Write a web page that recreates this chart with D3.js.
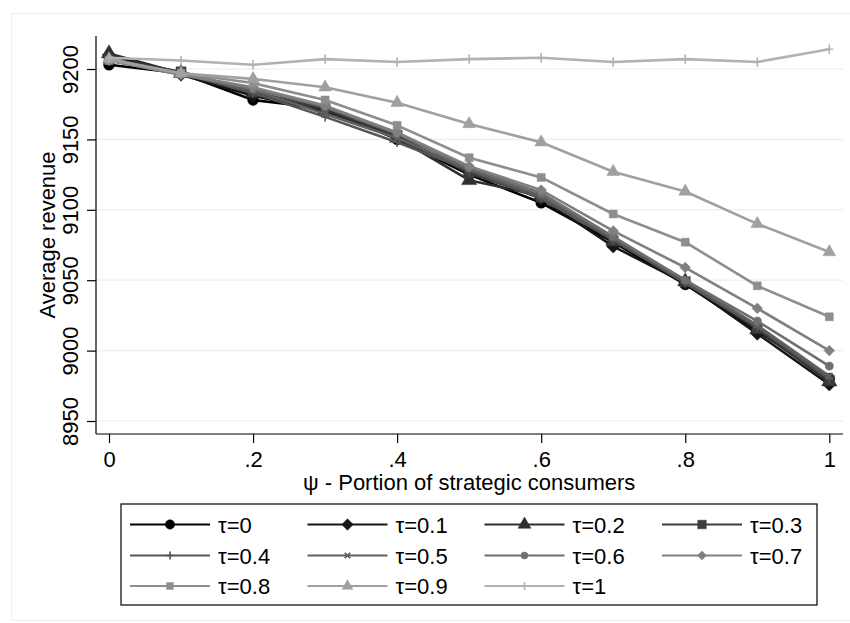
<!DOCTYPE html>
<html>
<head>
<meta charset="utf-8">
<script src="https://cdn.jsdelivr.net/npm/d3@7"></script>
<style>
  html, body { margin: 0; padding: 0; background: #ffffff; }
  svg { display: block; font-family: "Liberation Sans", Arial, sans-serif; }
</style>
</head>
<body>
<svg id="chart" width="850" height="623"></svg>
<script>
// ---- data ----
const psi = [0, 0.1, 0.2, 0.3, 0.4, 0.5, 0.6, 0.7, 0.8, 0.9, 1];
const yTicks = [8950, 9000, 9050, 9100, 9150, 9200];
const xTicks = [0, 0.2, 0.4, 0.6, 0.8, 1];
const xTickLabels = ["0", ".2", ".4", ".6", ".8", "1"];
const tauLabels = ["τ=0", "τ=0.1", "τ=0.2", "τ=0.3", "τ=0.4", "τ=0.5", "τ=0.6", "τ=0.7", "τ=0.8", "τ=0.9", "τ=1"];

const rev_t00 = [9203, 9197, 9178, 9172, 9150, 9125, 9105, 9077, 9047, 9014, 8980];
const rev_t01 = [9210, 9196, 9181, 9170, 9152, 9127, 9108, 9074, 9048, 9012, 8976];
const rev_t02 = [9211, 9197, 9183, 9171, 9151, 9121, 9110, 9078, 9049, 9015, 8978];
const rev_t03 = [9207, 9198, 9184, 9172, 9153, 9126, 9109, 9078, 9049, 9016, 8979];
const rev_t04 = [9206, 9197, 9183, 9166, 9148, 9128, 9108, 9079, 9048, 9017, 8980];
const rev_t05 = [9206, 9197, 9185, 9168, 9151, 9129, 9110, 9080, 9050, 9018, 8982];
const rev_t06 = [9206, 9196, 9186, 9173, 9154, 9130, 9112, 9081, 9050, 9021, 8989];
const rev_t07 = [9206, 9196, 9187, 9174, 9155, 9131, 9114, 9085, 9059, 9030, 9000];
const rev_t08 = [9206, 9197, 9190, 9178, 9160, 9137, 9123, 9097, 9077, 9046, 9024];
const rev_t09 = [9207, 9197, 9193, 9187, 9176, 9161, 9148, 9127, 9113, 9090, 9070];
const rev_t10 = [9208, 9206, 9203, 9207, 9205, 9207, 9208, 9205, 9207, 9205, 9214];

const seriesValues = [rev_t00, rev_t01, rev_t02, rev_t03, rev_t04, rev_t05, rev_t06, rev_t07, rev_t08, rev_t09, rev_t10];

// ---- styles ----
const colors = ["#000000", "#161616", "#2e2e2e", "#3c3c3c", "#555555", "#606060", "#6f6f6f", "#808080", "#8e8e8e", "#a0a0a0", "#b2b2b2"];
const markers = ["circle", "diamond", "triangle", "square", "plus", "x", "circle", "diamond", "square", "triangle", "plus"];
const msizes  = [1.0, 1.0, 1.0, 1.0, 0.75, 0.75, 0.75, 0.8, 0.8, 0.85, 0.75];

const svg = d3.select("#chart");
const FONT = 22;

// outer faint frame
svg.append("rect").attr("x", 11.5).attr("y", 13.5).attr("width", 850).attr("height", 607)
  .attr("fill", "none").attr("stroke", "#eaf1f2").attr("stroke-width", 1.2);

const x = d3.scaleLinear().domain([-0.01805, 1.0190]).range([96, 843]);
const y = d3.scaleLinear().domain([8940.77, 9223.44]).range([434, 36]);

// grid
svg.append("g").selectAll("line").data(yTicks).join("line")
  .attr("x1", 96).attr("x2", 843)
  .attr("y1", d => y(d)).attr("y2", d => y(d))
  .attr("stroke", "#edf3f4").attr("stroke-width", 1.6);

// axes
const yAxis = svg.append("g").attr("transform", "translate(96,0)")
  .call(d3.axisLeft(y).tickValues(yTicks).tickSize(9).tickFormat(d3.format("d")));
yAxis.select(".domain").attr("d", `M0,${y.range()[1]}V${y.range()[0]}`).attr("stroke", "#000").attr("stroke-width", 1.2);
yAxis.selectAll(".tick line").attr("stroke", "#000").attr("stroke-width", 1.2);
yAxis.selectAll(".tick text")
  .attr("font-size", FONT).attr("fill", "#000")
  .attr("text-anchor", "middle").attr("x", null).attr("dy", null)
  .attr("transform", "translate(-18,0) rotate(-90)");

const xAxis = svg.append("g").attr("transform", "translate(0,434)")
  .call(d3.axisBottom(x).tickValues(xTicks).tickSize(9).tickFormat((d, i) => xTickLabels[i]));
xAxis.select(".domain").attr("d", `M${x.range()[0]},0H${x.range()[1]}`).attr("stroke", "#000").attr("stroke-width", 1.2);
xAxis.selectAll(".tick line").attr("stroke", "#000").attr("stroke-width", 1.2);
xAxis.selectAll(".tick text")
  .attr("font-size", FONT).attr("fill", "#000").attr("dy", null).attr("y", 33);

// axis titles
svg.append("text").attr("transform", "translate(55,235) rotate(-90)")
  .attr("text-anchor", "middle").attr("font-size", FONT).attr("fill", "#000")
  .text("Average revenue");
svg.append("text").attr("x", (x(0) + x(1)) / 2).attr("y", 490)
  .attr("text-anchor", "middle").attr("font-size", FONT).attr("fill", "#000")
  .text("ψ - Portion of strategic consumers");

// marker drawing
function drawMarker(g, type, cx, cy, color, scale) {
  const s = scale;
  if (type === "plus") {
    g.append("path").attr("d", `M${cx - 5 * s},${cy}H${cx + 5 * s}M${cx},${cy - 6 * s}V${cy + 6 * s}`)
      .attr("stroke", color).attr("stroke-width", 1.6).attr("fill", "none");
  } else if (type === "x") {
    const r = 4 * s;
    g.append("path").attr("d", `M${cx - r},${cy - r}L${cx + r},${cy + r}M${cx - r},${cy + r}L${cx + r},${cy - r}`)
      .attr("stroke", color).attr("stroke-width", 1.8).attr("fill", "none");
  } else if (type === "diamond") {
    g.append("path").attr("d", d3.symbol().type(d3.symbolSquare).size(80 * s * s)())
      .attr("transform", `translate(${cx},${cy}) rotate(45)`)
      .attr("fill", color).attr("stroke", color).attr("stroke-width", 0.5);
  } else {
    const map = { circle: [d3.symbolCircle, 85], triangle: [d3.symbolTriangle, 90], square: [d3.symbolSquare, 90] };
    const [sym, area] = map[type];
    g.append("path").attr("d", d3.symbol().type(sym).size(area * s * s)())
      .attr("transform", `translate(${cx},${cy})`)
      .attr("fill", color).attr("stroke", color).attr("stroke-width", 0.5);
  }
}

// series
const line = d3.line().x((d, i) => x(psi[i])).y(d => y(d));
const plot = svg.append("g");
seriesValues.forEach((vals, k) => {
  const g = plot.append("g");
  g.append("path").datum(vals).attr("d", line)
    .attr("fill", "none").attr("stroke", colors[k]).attr("stroke-width", 2.6).attr("stroke-linejoin", "round");
  vals.forEach((v, i) => drawMarker(g, markers[k], x(psi[i]), y(v), colors[k], msizes[k] * 1.05));
});

// legend
const lg = svg.append("g");
lg.append("rect").attr("x", 121).attr("y", 504).attr("width", 696).attr("height", 101)
  .attr("fill", "#fff").attr("stroke", "#000").attr("stroke-width", 1.2);
const colX = [130, 307.5, 484.5, 662];
const rowY = [524.5, 555.5, 586];
tauLabels.forEach((lab, k) => {
  const c = k % 4, r = Math.floor(k / 4);
  const lx = colX[c], ly = rowY[r];
  lg.append("line").attr("x1", lx).attr("x2", lx + 80).attr("y1", ly).attr("y2", ly)
    .attr("stroke", colors[k]).attr("stroke-width", 2);
  drawMarker(lg, markers[k], lx + 40, ly, colors[k], msizes[k] * 0.9);
  lg.append("text").attr("x", lx + 88).attr("y", ly + 8)
    .attr("font-size", FONT).attr("fill", "#000").text(lab);
});
</script>
</body>
</html>
